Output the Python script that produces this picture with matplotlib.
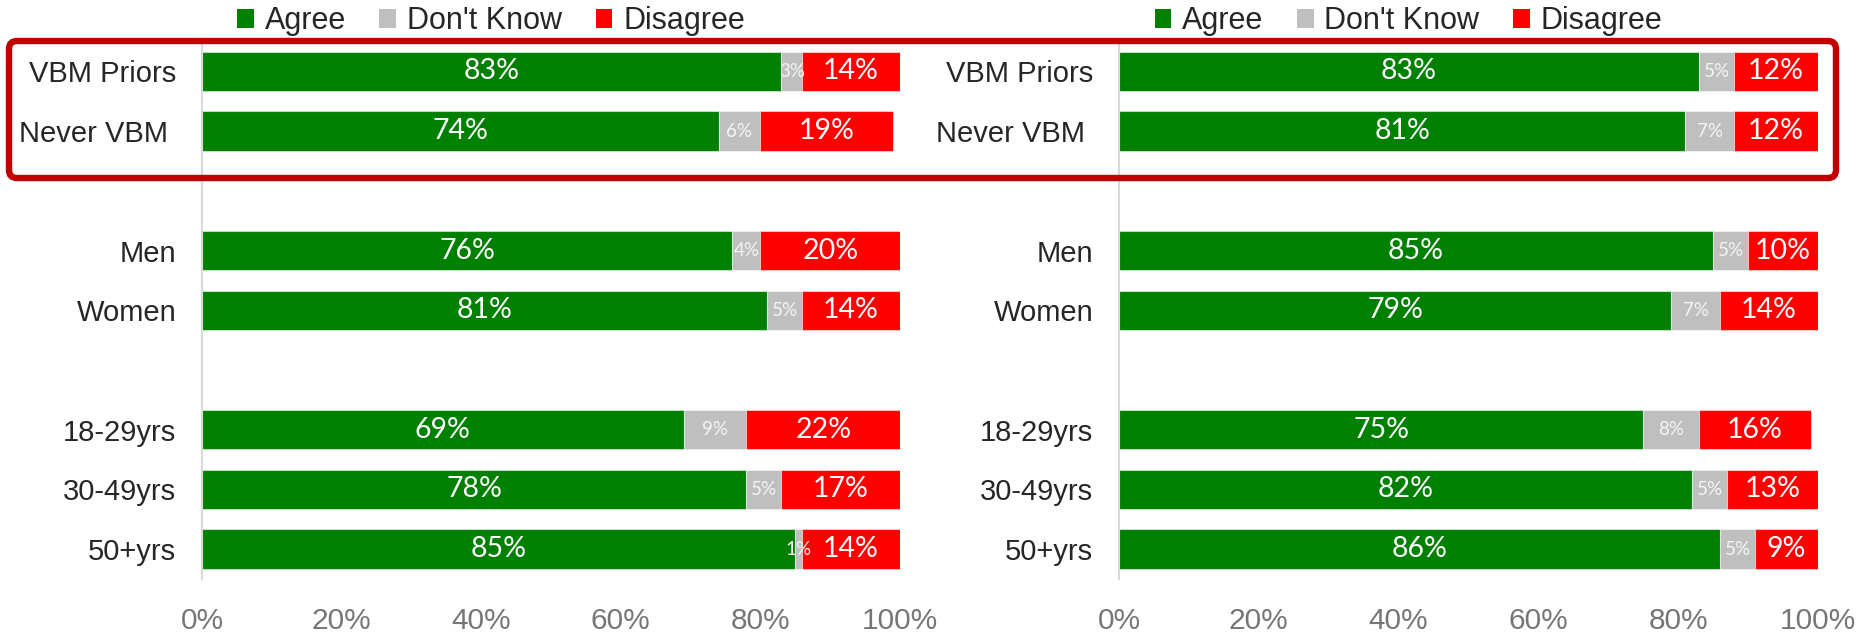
import matplotlib
matplotlib.use("Agg")
import matplotlib.pyplot as plt
from matplotlib.patches import FancyBboxPatch, Patch
import numpy as np

# ---------------- data ----------------
categories = ["VBM Priors", "Never VBM ", "Men", "Women", "18-29yrs", "30-49yrs", "50+yrs"]
group_sizes = [2, 2, 3]

left_agree = [83, 74, 76, 81, 69, 78, 85]
left_dontknow = [3, 6, 4, 5, 9, 5, 1]
left_disagree = [14, 19, 20, 14, 22, 17, 14]

right_agree = [83, 81, 85, 79, 75, 82, 86]
right_dontknow = [5, 7, 5, 7, 8, 5, 5]
right_disagree = [12, 12, 10, 14, 16, 13, 9]

series_names = ["Agree", "Don't Know", "Disagree"]
series_colors = ["#008000", "#BFBFBF", "#FF0000"]
x_ticks = [0, 20, 40, 60, 80, 100]
x_ticklabels = ["0%", "20%", "40%", "60%", "80%", "100%"]

# ---------------- style ----------------
plt.rcParams["font.family"] = ["Liberation Sans", "DejaVu Sans"]
LABEL_FONT = ["Lato", "DejaVu Sans"]

W, H = 1864, 633
fig = plt.figure(figsize=(W / 100, H / 100), dpi=100)

# row positions: groups separated by one empty slot
positions = []
p = 0
for g in group_sizes:
    for _ in range(g):
        positions.append(p)
        p += 1
    p += 1
positions = np.array(positions)
n_slots = positions[-1] + 1

ax_bottom = 1 - 579 / H
ax_height = (579 - 41.6) / H
axes_specs = [
    (202 / W, 698 / W, left_agree, left_dontknow, left_disagree),
    (1119 / W, 699 / W, right_agree, right_dontknow, right_disagree),
]

for (x0, w, agree, dk, dis) in axes_specs:
    ax = fig.add_axes([x0, ax_bottom, w, ax_height])
    lefts = np.zeros(len(categories))
    handles = []
    for vals, col, name in zip([agree, dk, dis], series_colors, series_names):
        vals = np.array(vals, dtype=float)
        ax.barh(positions, vals, left=lefts, height=0.66, color=col,
                edgecolor=(1, 1, 1, 0.5), linewidth=0.8)
        for ypos, l, v in zip(positions, lefts, vals):
            small = name == "Don't Know"
            ax.text(l + v / 2, ypos, f"{int(v)}%", ha="center", va="center",
                    color="#F5F5F5" if small else "white",
                    fontsize=13.5 if small else 20.5, family=LABEL_FONT,
                    fontweight="normal")
        lefts = lefts + vals
        handles.append(Patch(facecolor=col, edgecolor="none"))

    ax.set_xlim(0, 100)
    ax.set_ylim(n_slots - 0.5, -0.5)
    ax.set_yticks(positions)
    ax.set_yticklabels(categories, fontsize=21, color="#262626")
    ax.set_xticks(x_ticks)
    ax.set_xticklabels(x_ticklabels, fontsize=21.5, color="#767676")
    ax.tick_params(axis="both", length=0)
    ax.tick_params(axis="y", pad=18.5)
    ax.tick_params(axis="x", pad=20)
    for s in ["top", "right", "bottom"]:
        ax.spines[s].set_visible(False)
    ax.spines["left"].set_color("#D9D9D9")
    ax.spines["left"].set_linewidth(1.5)

    ax.legend(handles, series_names, ncol=3, loc="center",
              bbox_to_anchor=(0.414, 1.038), frameon=False, fontsize=22,
              handlelength=0.55, handleheight=0.55, handletextpad=0.35,
              columnspacing=1.1, borderaxespad=0, borderpad=0,
              labelcolor="#262626")

# red rounded highlight box (in inches, figure-relative)
bx0, bx1 = 9 / 100, 1836 / 100
by_top, by_bot = (H - 41) / 100, (H - 178) / 100
box = FancyBboxPatch((bx0, by_bot), bx1 - bx0, by_top - by_bot,
                     boxstyle="round,pad=0,rounding_size=0.08",
                     transform=fig.dpi_scale_trans, fill=False,
                     edgecolor="#C00000", linewidth=4.6, zorder=10)
fig.patches.append(box)

fig.savefig("out.png", dpi=100)
